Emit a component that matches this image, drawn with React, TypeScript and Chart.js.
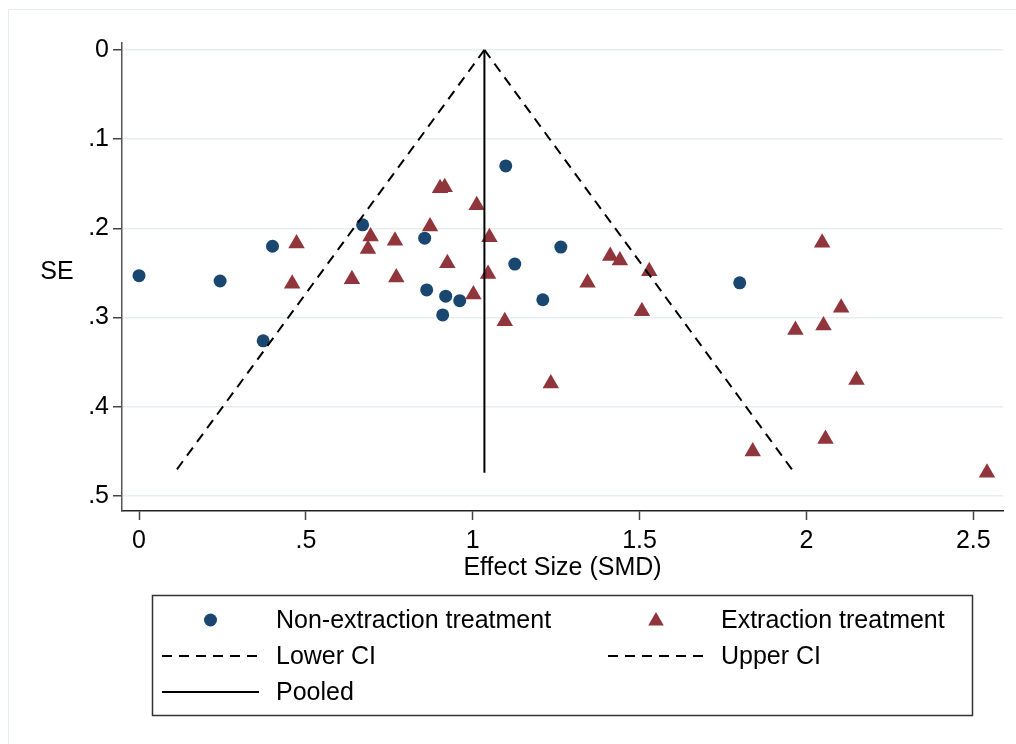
import React, { useEffect, useRef } from 'react';
import { Chart, registerables } from 'chart.js';

Chart.register(...registerables);

// ---- data ----
const nonExtractionES = [0.0, 0.243, 0.372, 0.40, 0.67, 0.856, 0.862, 0.91, 0.919, 0.961, 1.099, 1.126, 1.21, 1.264, 1.80];
const nonExtractionSE = [0.253, 0.259, 0.326, 0.220, 0.196, 0.211, 0.269, 0.297, 0.276, 0.281, 0.130, 0.240, 0.280, 0.221, 0.261];

const extractionES = [0.472, 0.459, 0.638, 0.694, 0.686, 0.767, 0.771, 0.872, 0.902, 0.916, 1.012, 1.050, 0.924, 1.046, 1.002,
  1.096, 1.234, 1.412, 1.441, 1.344, 1.529, 1.507, 2.047, 2.104, 1.967, 2.051, 2.150, 2.057, 1.839, 2.541];
const extractionSE = [0.217, 0.262, 0.257, 0.209, 0.223, 0.214, 0.255, 0.198, 0.155, 0.154, 0.174, 0.210, 0.239, 0.251, 0.274,
  0.304, 0.374, 0.231, 0.236, 0.261, 0.248, 0.293, 0.216, 0.289, 0.314, 0.309, 0.370, 0.436, 0.450, 0.474];

const funnelSE = [0, 0.474];
const lowerCIES = [1.035, 0.106];
const upperCIES = [1.035, 1.964];
const pooledES = [1.035, 1.035];

const xTickValues = [0, 0.5, 1, 1.5, 2, 2.5];
const xTickLabels = ['0', '.5', '1', '1.5', '2', '2.5'];
const yTickValues = [0, 0.1, 0.2, 0.3, 0.4, 0.5];
const yTickLabels = ['0', '.1', '.2', '.3', '.4', '.5'];

const seriesLabels = ['Non-extraction treatment', 'Extraction treatment', 'Lower CI', 'Upper CI', 'Pooled'];
const xTitle = 'Effect Size (SMD)';
const yTitle = 'SE';

const BLUE = '#1a476f';
const RED = '#90353b';
const FONT = '"Liberation Sans", Arial, Helvetica, sans-serif';
const FS = 25;

function pts(xs: number[], ys: number[]) {
  return xs.map((x, i) => ({ x, y: ys[i] }));
}

function drawMarker(ctx: CanvasRenderingContext2D, style: string, x: number, y: number, r: number, color: string) {
  ctx.fillStyle = color;
  ctx.beginPath();
  if (style === 'triangle') {
    let rad = 0;
    ctx.moveTo(x + Math.sin(rad) * r, y - Math.cos(rad) * r);
    rad += (2 * Math.PI) / 3;
    ctx.lineTo(x + Math.sin(rad) * r, y - Math.cos(rad) * r);
    rad += (2 * Math.PI) / 3;
    ctx.lineTo(x + Math.sin(rad) * r, y - Math.cos(rad) * r);
    ctx.closePath();
  } else {
    ctx.arc(x, y, r, 0, Math.PI * 2);
  }
  ctx.fill();
}

const stataPlugin = {
  id: 'stataExtras',
  afterDraw(chart: any) {
    const ctx: CanvasRenderingContext2D = chart.ctx;
    const area = chart.chartArea;
    ctx.save();
    // y-axis title (horizontal)
    ctx.fillStyle = '#000';
    ctx.font = `${FS}px ${FONT}`;
    ctx.textAlign = 'center';
    ctx.textBaseline = 'middle';
    ctx.fillText(yTitle, 57, (area.top + area.bottom) / 2 - 5);

    // legend box
    ctx.strokeStyle = '#333';
    ctx.lineWidth = 1.5;
    ctx.strokeRect(152.5, 595.5, 820, 120);
    const cols = [
      { sym: 210.5, text: 276, l: 162, r: 259 },
      { sym: 656, text: 721, l: 608, r: 705 },
    ];
    const rows = [620, 656, 692];
    chart.data.datasets.forEach((ds: any, i: number) => {
      const c = cols[i % 2];
      const y = rows[Math.floor(i / 2)];
      if (ds.showLine === false) {
        drawMarker(ctx, ds.pointStyle, c.sym, ds.pointStyle === 'triangle' ? y + 1 : y, ds.pointStyle === 'triangle' ? 9 : 6.5, ds.backgroundColor);
      } else {
        ctx.strokeStyle = ds.borderColor;
        ctx.lineWidth = ds.borderWidth;
        ctx.setLineDash(ds.borderDash || []);
        ctx.beginPath();
        ctx.moveTo(c.l, y);
        ctx.lineTo(c.r, y);
        ctx.stroke();
        ctx.setLineDash([]);
      }
      ctx.fillStyle = '#000';
      ctx.font = `${FS}px ${FONT}`;
      ctx.textAlign = 'left';
      ctx.textBaseline = 'middle';
      ctx.fillText(ds.label, c.text, y + 1);
    });
    ctx.restore();
  },
};

export default function App() {
  const canvasRef = useRef<HTMLCanvasElement | null>(null);

  useEffect(() => {
    document.body.style.margin = '0';
    const canvas = canvasRef.current;
    if (!canvas) return;
    const chart = new Chart(canvas, {
      type: 'scatter',
      data: {
        datasets: [
          {
            label: seriesLabels[0],
            data: pts(nonExtractionES, nonExtractionSE),
            showLine: false,
            pointStyle: 'circle',
            pointRadius: 6.5,
            pointBorderWidth: 0,
            backgroundColor: BLUE,
            borderColor: BLUE,
            order: 2,
          },
          {
            label: seriesLabels[1],
            data: pts(extractionES, extractionSE),
            showLine: false,
            pointStyle: 'triangle',
            pointRadius: 9.5,
            pointBorderWidth: 0,
            backgroundColor: RED,
            borderColor: RED,
            order: 1,
          },
          {
            label: seriesLabels[2],
            data: pts(lowerCIES, funnelSE),
            showLine: true,
            pointRadius: 0,
            borderColor: '#000',
            borderWidth: 2,
            borderDash: [10, 7],
            order: 0,
          },
          {
            label: seriesLabels[3],
            data: pts(upperCIES, funnelSE),
            showLine: true,
            pointRadius: 0,
            borderColor: '#000',
            borderWidth: 2,
            borderDash: [10, 7],
            order: 0,
          },
          {
            label: seriesLabels[4],
            data: pts(pooledES, funnelSE),
            showLine: true,
            pointRadius: 0,
            borderColor: '#000',
            borderWidth: 2,
            order: 0,
          },
        ],
      },
      options: {
        animation: false,
        responsive: true,
        maintainAspectRatio: false,
        layout: { padding: { left: 0, right: 13, top: 43, bottom: 153 } },
        plugins: {
          legend: { display: false },
          tooltip: { enabled: false },
        },
        scales: {
          x: {
            type: 'linear',
            min: -0.051,
            max: 2.589,
            afterFit: (s: any) => { s.height = 80; },
            afterBuildTicks: (s: any) => { s.ticks = xTickValues.map((v) => ({ value: v })); },
            ticks: {
              callback: (v: any) => xTickLabels[xTickValues.indexOf(Number(v))] ?? '',
              color: '#000',
              font: { family: FONT, size: FS },
              padding: 6,
              maxRotation: 0,
              autoSkip: false,
            },
            grid: { drawOnChartArea: false, tickLength: 9, tickColor: '#444', tickWidth: 1.5 },
            border: { color: '#222', width: 1.5 },
            title: {
              display: true,
              text: xTitle,
              color: '#000',
              font: { family: FONT, size: FS },
              padding: { top: 0, bottom: 8 },
            },
          },
          y: {
            type: 'linear',
            reverse: true,
            min: -0.0078,
            max: 0.5168,
            afterFit: (s: any) => { s.width = 122; },
            afterBuildTicks: (s: any) => { s.ticks = yTickValues.map((v) => ({ value: v })); },
            ticks: {
              callback: (v: any) => {
                const idx = yTickValues.findIndex((t) => Math.abs(t - Number(v)) < 1e-9);
                return idx >= 0 ? yTickLabels[idx] : '';
              },
              color: '#000',
              font: { family: FONT, size: FS },
              padding: 4,
              autoSkip: false,
            },
            grid: { color: '#e6eef0', lineWidth: 1.5, tickLength: 9, tickColor: '#444', tickWidth: 1.5 },
            border: { color: '#555', width: 1.5 },
          },
        },
      },
      plugins: [stataPlugin],
    });
    return () => chart.destroy();
  }, []);

  return (
    <div style={{ position: 'relative', width: 1016, height: 744, background: '#fff', overflow: 'hidden' }}>
      <div
        style={{
          position: 'absolute',
          left: 8,
          top: 9,
          width: 1100,
          height: 800,
          borderTop: '1.5px solid #e6eef0',
          borderLeft: '1.5px solid #e6eef0',
          pointerEvents: 'none',
        }}
      />
      <canvas ref={canvasRef} style={{ position: 'absolute', left: 0, top: 0 }} />
    </div>
  );
}
